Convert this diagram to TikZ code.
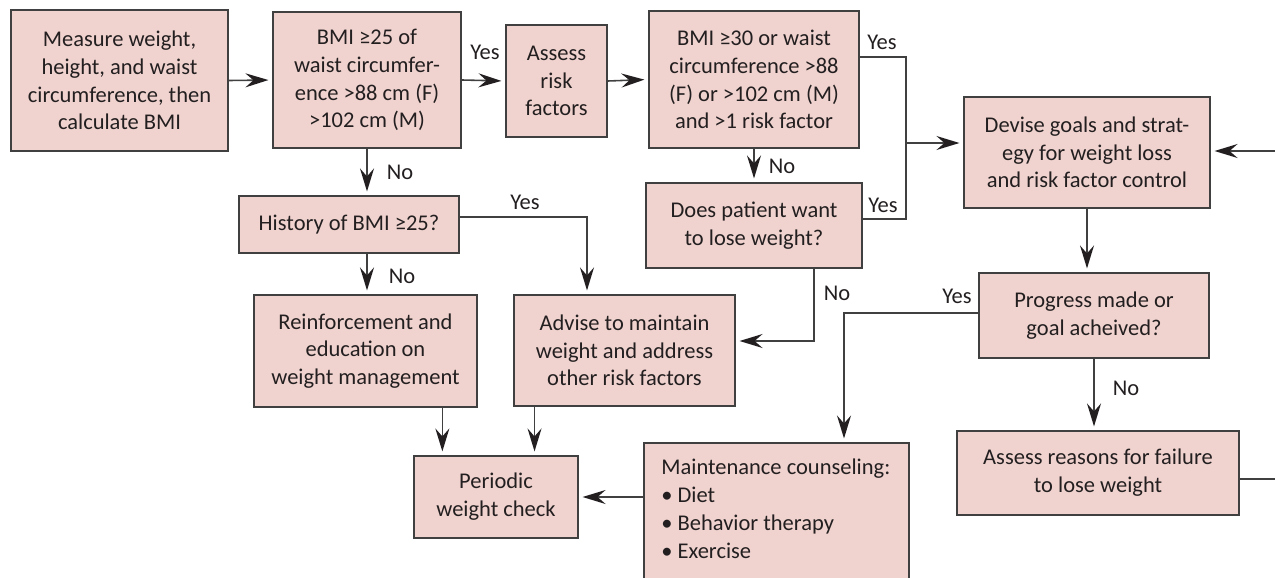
\documentclass[tikz,border=0pt]{standalone}
\usepackage{fontspec}
\setmainfont{Carlito}
\usetikzlibrary{arrows.meta,calc}
\definecolor{boxfill}{RGB}{240,211,207}
\definecolor{boxline}{RGB}{64,64,64}
\definecolor{ink}{RGB}{35,31,32}

\begin{document}
\begin{tikzpicture}[x=0.02cm,y=-0.02cm,
  font=\fontsize{12.8}{15.8}\selectfont,text=ink,
  >={Stealth[length=4.6mm,width=2.8mm,inset=1.6mm,color=ink]},
  box/.style={draw=boxline,fill=boxfill,line width=1.2pt,align=center,inner sep=0pt},
  lin/.style={draw=boxline,line width=0.9pt},
  arr/.style={lin,->,shorten >=2pt}]

\useasboundingbox (0,0) rectangle (1275,578);
\clip (0,0) rectangle (1275,578);

\node[box,minimum width=4.34cm,minimum height=2.82cm] (b1) at (119.5,80.5) {Measure weight,\\height, and waist\\circumference, then\\calculate BMI};
\node[box,minimum width=3.76cm,minimum height=2.72cm] (b2) at (367,80) {BMI ≥25 of\\waist circumfer-\\ence >88 cm (F)\\>102 cm (M)};
\node[box,minimum width=2.02cm,minimum height=2.24cm] (b3) at (556.5,81) {Assess\\risk\\factors};
\node[box,minimum width=4.2cm,minimum height=2.74cm] (b4) at (754,79.5) {BMI ≥30 or waist\\circumference >88\\(F) or >102 cm (M)\\and >1 risk factor};
\node[box,minimum width=4.32cm,minimum height=1.7cm] (b5) at (754,225.5) {Does patient want\\to lose weight?};
\node[box,minimum width=4.92cm,minimum height=2.22cm] (b6) at (1087,152.5) {Devise goals and strat-\\egy for weight loss\\and risk factor control};
\node[box,minimum width=4.4cm,minimum height=1.14cm] (b7) at (349,224.5) {History of BMI ≥25?};
\node[box,minimum width=4.46cm,minimum height=2.24cm] (b8) at (365.5,351) {Reinforcement and\\education on\\weight management};
\node[box,minimum width=4.42cm,minimum height=2.22cm] (b9) at (624.5,350.5) {Advise to maintain\\weight and address\\other risk factors};
\node[box,minimum width=3.28cm,minimum height=1.64cm] (b10) at (496,497) {Periodic\\weight check};
\node[box,anchor=north west,minimum width=5.3cm,minimum height=3.6cm] (b11) at (643,442) {};
\node[anchor=north west,align=left,inner sep=0pt] (t11) at ($(b11.north west)+(18,17)$) {Maintenance counseling:\\\textbullet\ Diet\\\textbullet\ Behavior therapy\\\textbullet\ Exercise};
\node[box,minimum width=4.6cm,minimum height=1.7cm] (b12) at (1094,315.5) {Progress made or\\goal acheived?};
\node[box,minimum width=5.64cm,minimum height=1.68cm] (b13) at (1098,473) {Assess reasons for failure\\to lose weight};

\node (l1) at (485,52) {Yes};
\node (l2) at (400,172) {No};
\node (l3) at (402,276) {No};
\node (l4) at (525,202) {Yes};
\node (l5) at (782,166) {No};
\node (l6) at (882,42) {Yes};
\node (l7) at (883,205) {Yes};
\node (l8) at (837,293) {No};
\node (l9) at (957,296) {Yes};
\node (l10) at (1126,388) {No};

\coordinate (k1) at (587,217);
\coordinate (k2) at (906,57);
\coordinate (k3) at (906,143);
\coordinate (k4) at (906,219);
\coordinate (k5) at (814,341);
\coordinate (k6) at (844,313);
\coordinate (k7) at (1300,479);
\coordinate (k8) at (1300,151);
\coordinate (p1) at ($(b10.north west)!0.177!(b10.north east)$);
\coordinate (p2) at ($(b10.north west)!0.732!(b10.north east)$);

\draw[arr] (b1.east) -- (b2.west);
\draw[arr] (b2.east) -- (b3.west);
\draw[arr] (b3.east) -- (b4.west);
\draw[arr] (b2.south) -- (b2.south |- b7.north);
\draw[arr] (b7.south -| b2.south) -- (b8.north -| b2.south);
\draw[arr] (b7.east |- k1) -- (k1) -- (k1 |- b9.north);
\draw[arr] (b4.south) -- (b5.north);
\draw[lin] (b4.east |- k2) -- (k2) -- (k4) -- (b5.east |- k4);
\draw[arr] (k3) -- (b6.west |- k3);
\draw[arr] (b5.south -| k5) -- (k5) -- (b9.east |- k5);
\draw[arr] (b6.south) -- (b6.south |- b12.north);
\draw[arr] (b12.west |- k6) -- (k6) -- (k6 |- b11.north);
\draw[arr] (b12.south) -- (b12.south |- b13.north);
\draw[arr] (b13.east |- k7) -- (k7) -- (k8) -- (b6.east |- k8);
\draw[arr] (b11.west |- b10.east) -- (b10.east);
\draw[arr] (b8.south -| p1) -- (p1);
\draw[arr] (b9.south -| p2) -- (p2);
\end{tikzpicture}
\end{document}
